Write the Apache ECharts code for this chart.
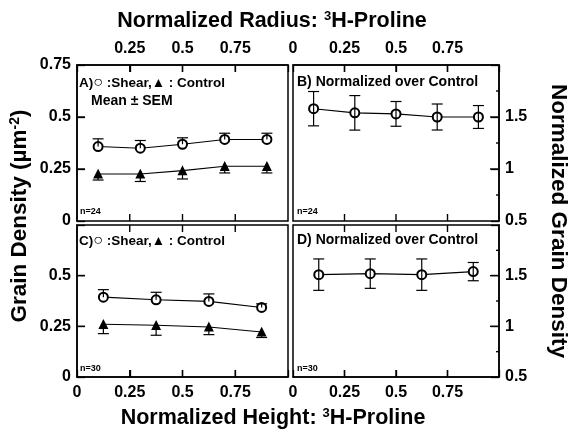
<!DOCTYPE html>
<html>
<head>
<meta charset="utf-8">
<script src="https://cdn.jsdelivr.net/npm/echarts@6/dist/echarts.min.js"></script>
<style>
  html, body { margin: 0; padding: 0; background: #fff; }
  #chart { width: 572px; height: 432px; }
</style>
</head>
<body>
<div id="chart"></div>
<script>
// radial positions (top panels) and axial positions (bottom panels)
var xRadius = [0.1, 0.3, 0.5, 0.7, 0.9];
var xHeight = [0.125, 0.375, 0.625, 0.875];

// A) radius, grain density, n=24
var shearA = [0.358, 0.350, 0.369, 0.392, 0.392];
var shearASem = [0.037, 0.037, 0.031, 0.030, 0.030];
var controlA = [0.226, 0.226, 0.242, 0.263, 0.263];
var controlASem = [0.029, 0.036, 0.040, 0.032, 0.032];

// B) radius, normalized over control
var normB = [1.58, 1.54, 1.53, 1.50, 1.50];
var normBSem = [0.165, 0.166, 0.119, 0.125, 0.110];

// C) height, grain density, n=30
var shearC = [0.394, 0.381, 0.373, 0.343];
var shearCSem = [0.037, 0.037, 0.037, 0.018];
var controlC = [0.260, 0.255, 0.247, 0.222];
var controlCSem = [0.046, 0.049, 0.038, 0.027];

// D) height, normalized over control
var normD = [1.51, 1.52, 1.51, 1.54];
var normDSem = [0.155, 0.145, 0.155, 0.090];

// tick values
var xTicks = [0.25, 0.5, 0.75];
var leftTicks = [0.25, 0.5];
var rightTicks = [1, 1.5];
var rightMinor = [0.75, 1.25, 1.75];

var FONT = "'Liberation Sans', Arial, sans-serif";

function pts(xs, ys) {
  return xs.map(function(x, i) { return [x, ys[i]]; });
}
// dir: 1 = only upward, -1 = only downward, 0 = both
function errs(xs, ys, sem, dir) {
  return xs.map(function(x, i) {
    var lo = dir > 0 ? ys[i] : ys[i] - sem[i];
    var hi = dir < 0 ? ys[i] : ys[i] + sem[i];
    return [x, ys[i], lo, hi];
  });
}

function renderErr(params, api) {
  var x = api.value(0), m = api.value(1), lo = api.value(2), hi = api.value(3);
  var pLo = api.coord([x, lo]);
  var pHi = api.coord([x, hi]);
  var w = 5.5;
  var st = { stroke: "#000", lineWidth: 1.2 };
  var kids = [{ type: "line", shape: { x1: pLo[0], y1: pLo[1], x2: pHi[0], y2: pHi[1] }, style: st }];
  if (hi > m) kids.push({ type: "line", shape: { x1: pHi[0] - w, y1: pHi[1], x2: pHi[0] + w, y2: pHi[1] }, style: st });
  if (lo < m) kids.push({ type: "line", shape: { x1: pLo[0] - w, y1: pLo[1], x2: pLo[0] + w, y2: pLo[1] }, style: st });
  return { type: "group", children: kids };
}

var grids = [
  { left: 77, top: 65, width: 211, height: 156 },
  { left: 293, top: 65, width: 206, height: 156 },
  { left: 77, top: 225, width: 211, height: 152 },
  { left: 293, top: 225, width: 206, height: 152 },
].map(function(g) {
  g.show = true;
  g.backgroundColor = "transparent";
  g.borderColor = "#000";
  g.borderWidth = 1.5;
  return g;
});

var axisLabel = { fontFamily: FONT, fontWeight: "bold", fontSize: 16, color: "#000" };

function xAx(gi, pos, hideVals) {
  return {
    type: "value", gridIndex: gi, position: pos, min: 0, max: 1, interval: 0.25,
    splitLine: { show: false },
    axisLine: { show: true, onZero: false, lineStyle: { color: "#000", width: 1.5 } },
    axisTick: { show: true, inside: true, length: 7, lineStyle: { color: "#000", width: 1.3 } },
    axisLabel: Object.assign({}, axisLabel, {
      margin: 8,
      formatter: function(v) { return hideVals.indexOf(v) >= 0 ? "" : String(v); },
    }),
  };
}
function yAx(gi, pos, min, max, hideVals) {
  return {
    type: "value", gridIndex: gi, position: pos, min: min, max: max, interval: min === 0 ? 0.25 : 0.5,
    splitLine: { show: false },
    axisLine: { show: true, onZero: false, lineStyle: { color: "#000", width: 1.5 } },
    axisTick: { show: true, inside: true, length: 8, lineStyle: { color: "#000", width: 1.3 } },
    axisLabel: Object.assign({}, axisLabel, {
      margin: 6,
      formatter: function(v) { return hideVals.indexOf(v) >= 0 ? "" : String(v); },
    }),
  };
}

var xAxes = [
  xAx(0, "top", [0, 1]),
  xAx(1, "top", [1]),
  xAx(2, "bottom", [1]),
  xAx(3, "bottom", [1]),
];
var yAxes = [
  yAx(0, "left", 0, 0.75, []),
  yAx(1, "right", 0.5, 2, [2]),
  yAx(2, "left", 0, 0.75, [0.75]),
  yAx(3, "right", 0.5, 2, [2]),
];

function lineSeries(gi, data, shape) {
  var filled = shape === "triangle";
  return {
    type: "line", xAxisIndex: gi, yAxisIndex: gi, data: data,
    symbol: filled ? "triangle" : "emptyCircle",
    symbolSize: filled ? 8 : 9,
    showAllSymbol: true,
    lineStyle: { color: "#000", width: 1.1 },
    itemStyle: { color: "#000", borderColor: "#000", borderWidth: 1.2 },
    z: 6, silent: true, animation: false,
  };
}
function errSeries(gi, data) {
  return {
    type: "custom", xAxisIndex: gi, yAxisIndex: gi, data: data,
    renderItem: renderErr, encode: { x: 0, y: 1 }, z: 7, silent: true, animation: false,
  };
}

var series = [
  lineSeries(0, pts(xRadius, shearA), "circle"),
  errSeries(0, errs(xRadius, shearA, shearASem, 1)),
  lineSeries(0, pts(xRadius, controlA), "triangle"),
  errSeries(0, errs(xRadius, controlA, controlASem, -1)),
  lineSeries(1, pts(xRadius, normB), "circle"),
  errSeries(1, errs(xRadius, normB, normBSem, 0)),
  lineSeries(2, pts(xHeight, shearC), "circle"),
  errSeries(2, errs(xHeight, shearC, shearCSem, 1)),
  lineSeries(2, pts(xHeight, controlC), "triangle"),
  errSeries(2, errs(xHeight, controlC, controlCSem, -1)),
  lineSeries(3, pts(xHeight, normD), "circle"),
  errSeries(3, errs(xHeight, normD, normDSem, 0)),
];

function rich(size) {
  return {
    a: { fontFamily: FONT, fontWeight: "bold", fontSize: size, fill: "#000" },
    s: { fontFamily: FONT, fontWeight: "bold", fontSize: Math.round(size * 0.62), fill: "#000", verticalAlign: "top" },
    c: { fontFamily: FONT, fontSize: Math.round(size * 1.15), fill: "#000" },
  };
}
function txt(x, y, text, size) {
  return {
    type: "text", x: x, y: y, z: 10,
    style: { text: text, rich: rich(size), verticalAlign: "middle" },
  };
}

var graphics = [
  { type: "text", x: 272, y: 21,
    style: { text: "{a|Normalized Radius: }{s|3}{a|H-Proline}", rich: rich(21.5), align: "center", verticalAlign: "middle" } },
  { type: "text", x: 273, y: 418,
    style: { text: "{a|Normalized Height: }{s|3}{a|H-Proline}", rich: rich(21.5), align: "center", verticalAlign: "middle" } },
  { type: "text", x: 20, y: 216, rotation: Math.PI / 2,
    style: { text: "{a|Grain Density (µm}{s|-2}{a|)}", rich: rich(22.5), align: "center", verticalAlign: "middle" } },
  { type: "text", x: 558, y: 221, rotation: -Math.PI / 2,
    style: { text: "Normalized Grain Density", fontFamily: FONT, fontWeight: "bold", fontSize: 22.5, fill: "#000", align: "center", verticalAlign: "middle" } },
  txt(79, 83, "{a|A)}{c|○}{a| :Shear,▲ : Control}", 13.5),
  txt(91, 101, "{a|Mean ± SEM}", 14),
  txt(80, 212, "{a|n=24}", 9),
  txt(297, 82, "{a|B) Normalized over Control}", 14),
  txt(297, 212, "{a|n=24}", 9),
  txt(79, 241, "{a|C)}{c|○}{a| :Shear,▲ : Control}", 13.5),
  txt(80, 369, "{a|n=30}", 9),
  txt(297, 240, "{a|D) Normalized over Control}", 14),
  txt(297, 369, "{a|n=30}", 9),
];

var myChart = echarts.init(document.getElementById("chart"));
myChart.setOption({
  animation: false,
  backgroundColor: "#fff",
  grid: grids,
  xAxis: xAxes,
  yAxis: yAxes,
  series: series,
  graphic: graphics,
});

// inward tick marks placed with the grids' own scales (convertToPixel)
function tickLine(x1, y1, x2, y2) {
  return { type: "line", z: 20, silent: true,
    shape: { x1: x1, y1: y1, x2: x2, y2: y2 },
    style: { stroke: "#000", lineWidth: 1.4 } };
}
var ticks = [];
for (var gi = 0; gi < 4; gi++) {
  var yMin = yAxes[gi].min, yMax = yAxes[gi].max;
  xTicks.forEach(function(v) {
    var pb = myChart.convertToPixel({ gridIndex: gi }, [v, yMin]);
    var pt = myChart.convertToPixel({ gridIndex: gi }, [v, yMax]);
    ticks.push(tickLine(pt[0], pt[1], pt[0], pt[1] + 7));
    ticks.push(tickLine(pb[0], pb[1], pb[0], pb[1] - 7));
  });
  if (gi % 2 === 0) {
    leftTicks.forEach(function(v) {
      var p = myChart.convertToPixel({ gridIndex: gi }, [0, v]);
      ticks.push(tickLine(p[0], p[1], p[0] + 8, p[1]));
    });
  } else {
    rightTicks.forEach(function(v) {
      var p = myChart.convertToPixel({ gridIndex: gi }, [1, v]);
      ticks.push(tickLine(p[0], p[1], p[0] - 9, p[1]));
    });
    rightMinor.forEach(function(v) {
      var p = myChart.convertToPixel({ gridIndex: gi }, [1, v]);
      ticks.push(tickLine(p[0], p[1], p[0] - 3, p[1]));
    });
  }
}
myChart.setOption({ graphic: graphics.concat(ticks) });
</script>
</body>
</html>
